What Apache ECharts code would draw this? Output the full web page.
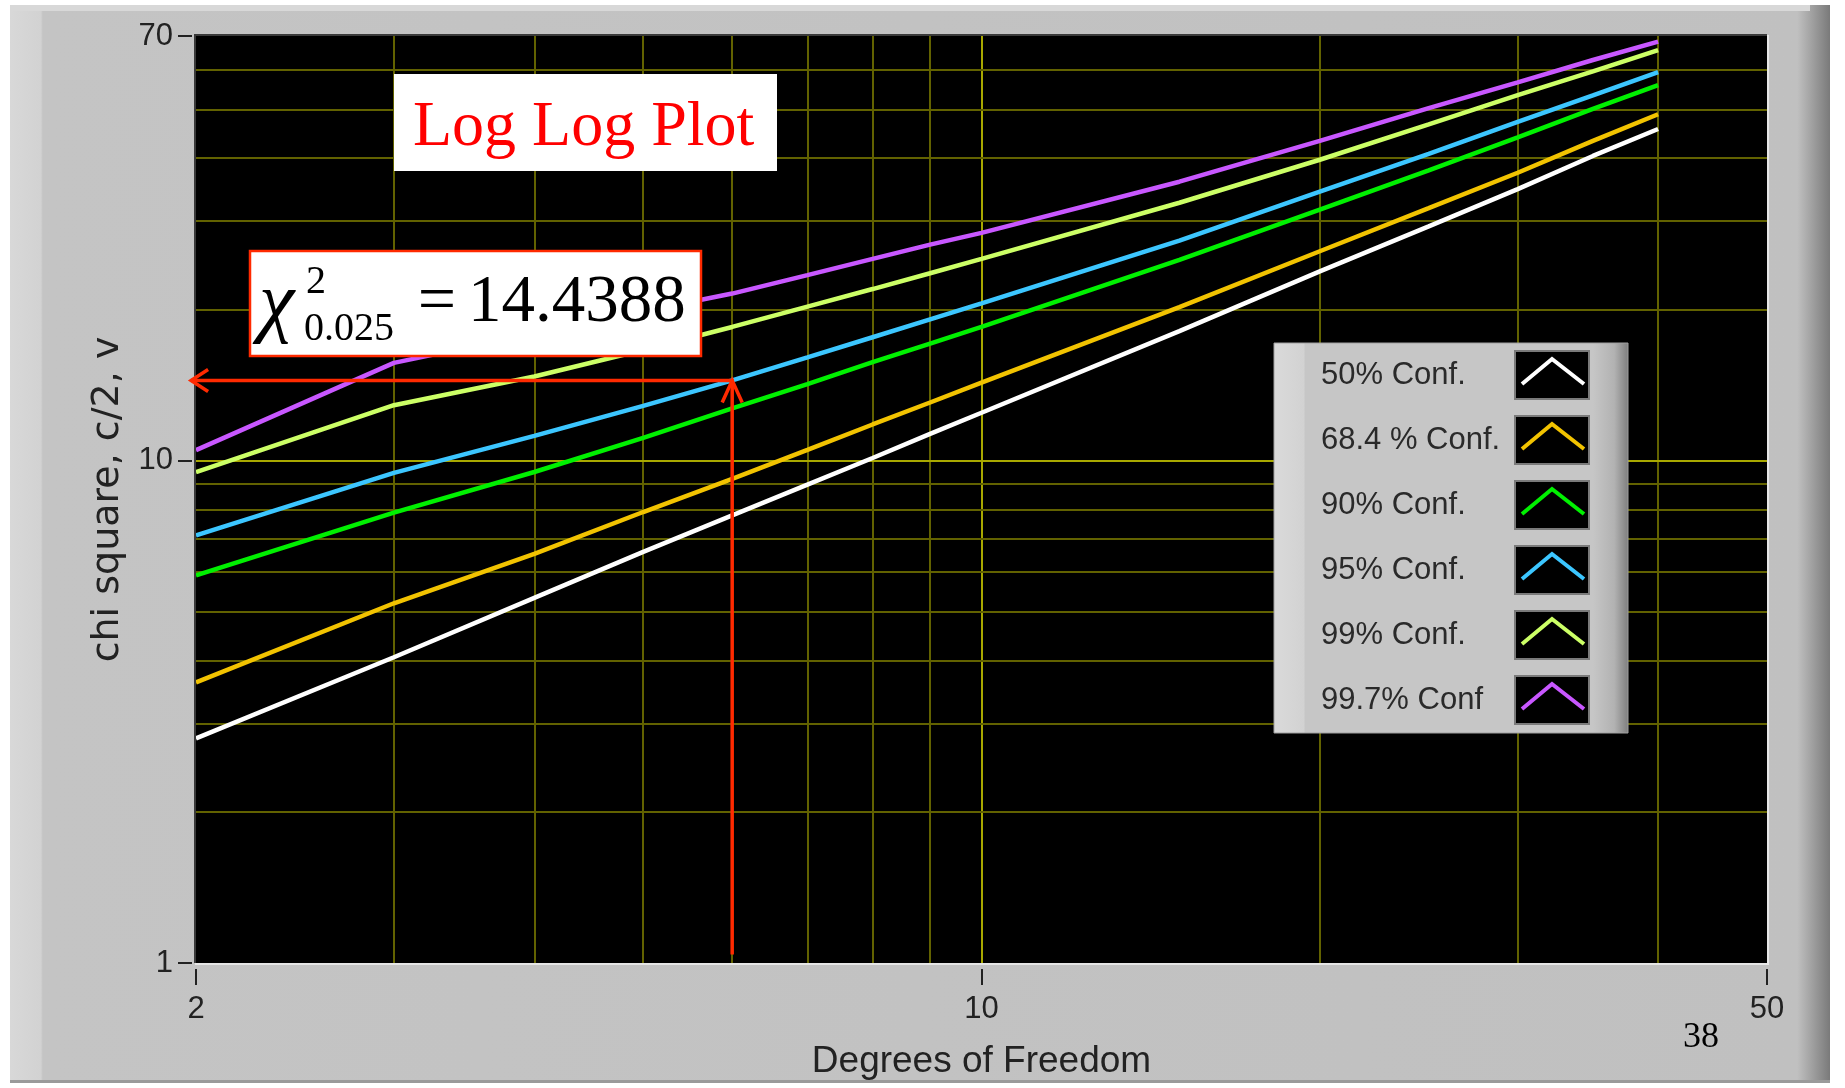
<!DOCTYPE html>
<html>
<head>
<meta charset="utf-8">
<title>Chi square vs degrees of freedom</title>
<script src="https://cdn.jsdelivr.net/npm/echarts@6/dist/echarts.min.js"></script>
<style>
  html, body { margin: 0; padding: 0; background: #ffffff; }
  #chart { width: 1845px; height: 1088px; }
</style>
</head>
<body>
<div id="chart"></div>
<script>
// Degrees of freedom at which each curve is sampled
const DOF = [2, 3, 4, 5, 6, 7, 8, 9, 10, 15, 20, 25, 30, 35, 40];

// Chi-square value for each confidence level
const CONF_50   = [2.80, 4.06, 5.33, 6.58, 7.78, 8.96, 10.12, 11.3, 12.45, 18.1, 23.8, 29.25, 34.7, 40.4, 45.7];
const CONF_68_4 = [3.62, 5.20, 6.52, 7.90, 9.20, 10.5, 11.8, 13.05, 14.3, 20.2, 26.1, 31.8, 37.4, 43.3, 48.9];
const CONF_90   = [5.91, 7.88, 9.49, 11.1, 12.7, 14.2, 15.7, 17.1, 18.45, 25.1, 31.6, 37.8, 44.0, 50.1, 55.9];
const CONF_95   = [7.10, 9.45, 11.2, 12.85, 14.44, 16.05, 17.6, 19.1, 20.55, 27.4, 34.3, 40.8, 47.2, 53.3, 59.3];
const CONF_99   = [9.49, 12.89, 14.7, 16.6, 18.45, 20.25, 21.95, 23.6, 25.2, 32.6, 39.7, 46.7, 53.4, 59.5, 65.6];
const CONF_99_7 = [10.49, 15.65, 17.9, 19.8, 21.5, 23.4, 25.2, 26.9, 28.4, 35.9, 43.3, 50.3, 56.6, 62.7, 68.2];

const SERIES_NAMES  = ['50% Conf.', '68.4 % Conf.', '90% Conf.', '95% Conf.', '99% Conf.', '99.7% Conf'];
const SERIES_VALUES = [CONF_50, CONF_68_4, CONF_90, CONF_95, CONF_99, CONF_99_7];

// Axis end ticks (also the labelled values) and grid line values
const X_TICKS = [2, 10, 50];
const Y_TICKS = [1, 10, 70];
const X_GRID  = [3, 4, 5, 6, 7, 8, 9, 10, 20, 30, 40];
const Y_GRID  = [2, 3, 4, 5, 6, 7, 8, 9, 10, 20, 30, 40, 50, 60];
const MAJOR_GRID = 10;

// Worked reading: 95% curve at 6 degrees of freedom
const READ_DOF   = 6;
const READ_VALUE = 14.4388;
const READ_FROM  = 1.04;   // foot of the vertical arrow
const READ_TO    = 1.98;   // tip of the horizontal arrow

// ---- styling ----
const COLORS = ['#ffffff', '#f2c300', '#00f000', '#3cc6ff', '#ccff66', '#c857ff'];
const MINOR_GRID_COLOR = '#626200';
const MAJOR_GRID_COLOR = '#a8a800';
const ARROW_RED = '#ff2a00';
const GRID = { left: 196, top: 36, width: 1571, height: 927 };
const SANS = '"Liberation Sans", Arial, sans-serif';
const SERIF = '"Liberation Serif", "Times New Roman", serif';

const chart = echarts.init(document.getElementById('chart'), null, { renderer: 'canvas' });

const gridLines = []
  .concat(X_GRID.map(v => ({ xAxis: v, lineStyle: { color: v === MAJOR_GRID ? MAJOR_GRID_COLOR : MINOR_GRID_COLOR, width: 2, type: 'solid' } })))
  .concat(Y_GRID.map(v => ({ yAxis: v, lineStyle: { color: v === MAJOR_GRID ? MAJOR_GRID_COLOR : MINOR_GRID_COLOR, width: 2, type: 'solid' } })));

const series = [{
  name: 'grid',
  type: 'line',
  data: [],
  z: 1,
  silent: true,
  markLine: {
    silent: true,
    symbol: 'none',
    animation: false,
    z: 1,
    label: { show: false },
    emphasis: { disabled: true },
    data: gridLines
  }
}].concat(SERIES_NAMES.map((name, i) => ({
  name: name,
  type: 'line',
  data: DOF.map((d, j) => [d, SERIES_VALUES[i][j]]),
  showSymbol: false,
  symbol: 'none',
  smooth: false,
  z: 10,
  silent: true,
  lineStyle: { color: COLORS[i], width: 4.5 },
  itemStyle: { color: COLORS[i] }
})));

const axisLabelStyle = {
  show: true,
  fontFamily: SANS,
  fontSize: 31,
  color: '#222222',
  showMinLabel: true,
  showMaxLabel: true,
  formatter: v => String(Math.round(v))
};

const option = {
  backgroundColor: '#ffffff',
  animation: false,
  grid: {
    left: GRID.left, top: GRID.top, width: GRID.width, height: GRID.height,
    show: true, backgroundColor: '#000000', borderWidth: 0,
    outerBoundsMode: 'none'
  },
  xAxis: {
    type: 'log', logBase: 10,
    min: X_TICKS[0], max: X_TICKS[X_TICKS.length - 1],
    offset: 6,
    name: 'Degrees of Freedom', nameLocation: 'middle', nameGap: 74,
    nameTextStyle: { fontFamily: SANS, fontSize: 37, color: '#222222' },
    axisLine: { show: false },
    axisTick: { show: true, length: 16, lineStyle: { color: '#222222', width: 2 } },
    axisLabel: Object.assign({ margin: 25 }, axisLabelStyle),
    splitLine: { show: false },
    minorTick: { show: false },
    minorSplitLine: { show: false }
  },
  yAxis: {
    type: 'log', logBase: 10,
    min: Y_TICKS[0], max: Y_TICKS[Y_TICKS.length - 1],
    offset: 4,
    name: 'chi square, c/2, v', nameLocation: 'middle', nameGap: 64,
    nameTextStyle: { fontFamily: '"DejaVu Sans", sans-serif', fontSize: 38, color: '#222222' },
    axisLine: { show: false },
    axisTick: { show: true, length: 14, lineStyle: { color: '#222222', width: 2 } },
    axisLabel: Object.assign({ margin: 19 }, axisLabelStyle),
    splitLine: { show: false },
    minorTick: { show: false },
    minorSplitLine: { show: false }
  },
  legend: { show: false },
  tooltip: { show: false },
  series: series
};

chart.setOption(option);

// ---- decorations: panel, plot frame, annotation boxes, legend, reading arrows ----
function panelGraphics() {
  return [
    { type: 'rect', z: -10, silent: true,
      shape: { x: 10, y: 5, width: 1820, height: 1078 },
      style: { fill: { type: 'linear', x: 0, y: 0, x2: 1, y2: 0, colorStops: [
        { offset: 0, color: '#d8d8d8' }, { offset: 0.017, color: '#d2d2d2' },
        { offset: 0.018, color: '#c4c4c4' }, { offset: 0.982, color: '#c0c0c0' },
        { offset: 1, color: '#7a7a7a' } ] } } },
    { type: 'rect', z: -9, silent: true, shape: { x: 10, y: 5, width: 1800, height: 6 }, style: { fill: '#d8d8d8' } },
    { type: 'rect', z: -9, silent: true, shape: { x: 10, y: 1080, width: 1820, height: 3 }, style: { fill: '#9a9a9a' } },
    // plot frame: dark top/left, light bottom/right
    { type: 'polyline', z: 20, silent: true,
      shape: { points: [[GRID.left - 1, GRID.top + GRID.height], [GRID.left - 1, GRID.top - 1], [GRID.left + GRID.width, GRID.top - 1]] },
      style: { stroke: '#3a3a3a', lineWidth: 2, fill: null } },
    { type: 'polyline', z: 20, silent: true,
      shape: { points: [[GRID.left - 1, GRID.top + GRID.height + 1], [GRID.left + GRID.width + 1, GRID.top + GRID.height + 1], [GRID.left + GRID.width + 1, GRID.top - 1]] },
      style: { stroke: '#e6e6e6', lineWidth: 2, fill: null } }
  ];
}

function titleGraphics() {
  return [
    { type: 'rect', z: 30, silent: true, shape: { x: 394, y: 74, width: 383, height: 97 }, style: { fill: '#ffffff' } },
    { type: 'text', z: 31, silent: true,
      style: { x: 413, y: 128, text: 'Log Log Plot', fill: '#ff0000', font: '64px ' + SERIF, align: 'left', verticalAlign: 'middle' } },
    { type: 'rect', z: 30, silent: true, shape: { x: 250, y: 251, width: 451, height: 105 },
      style: { fill: '#ffffff', stroke: ARROW_RED, lineWidth: 2.5 } },
    { type: 'text', z: 31, silent: true,
      style: { x: 259, y: 306, text: '\u03C7', fill: '#000000', font: 'italic 80px ' + SERIF, align: 'left', verticalAlign: 'middle' } },
    { type: 'text', z: 31, silent: true,
      style: { x: 306, y: 282, text: '2', fill: '#000000', font: '40px ' + SERIF, align: 'left', verticalAlign: 'middle' } },
    { type: 'text', z: 31, silent: true,
      style: { x: 304, y: 329, text: '0.025', fill: '#000000', font: '40px ' + SERIF, align: 'left', verticalAlign: 'middle' } },
    { type: 'text', z: 31, silent: true,
      style: { x: 437, y: 303, text: '=', fill: '#000000', font: '68px ' + SERIF, align: 'center', verticalAlign: 'middle' } },
    { type: 'text', z: 31, silent: true,
      style: { x: 468, y: 303, text: String(READ_VALUE), fill: '#000000', font: '67px ' + SERIF, align: 'left', verticalAlign: 'middle' } },
    { type: 'text', z: 31, silent: true,
      style: { x: 1701, y: 1038, text: '38', fill: '#000000', font: '36px ' + SERIF, align: 'center', verticalAlign: 'middle' } }
  ];
}

function legendGraphics() {
  const x0 = 1274, y0 = 343, w = 354, h = 390;
  const els = [
    { type: 'rect', z: 30, silent: true, shape: { x: x0, y: y0, width: w, height: h },
      style: { fill: { type: 'linear', x: 0, y: 0, x2: 1, y2: 0, colorStops: [
        { offset: 0, color: '#dadada' }, { offset: 0.085, color: '#d2d2d2' },
        { offset: 0.09, color: '#c6c6c6' }, { offset: 0.9, color: '#c6c6c6' },
        { offset: 0.96, color: '#b2b2b2' }, { offset: 1, color: '#7e7e7e' } ] },
        stroke: '#a0a0a0', lineWidth: 1 } }
  ];
  SERIES_NAMES.forEach((name, i) => {
    const cy = 375 + i * 65;
    els.push({ type: 'text', z: 31, silent: true,
      style: { x: 1321, y: cy, text: name, fill: '#2a2a2a', font: '31px ' + SANS, align: 'left', verticalAlign: 'middle' } });
    els.push({ type: 'rect', z: 31, silent: true, shape: { x: 1515, y: cy - 24, width: 74, height: 48 },
      style: { fill: '#000000', stroke: '#7a7a7a', lineWidth: 2 } });
    els.push({ type: 'polyline', z: 32, silent: true,
      shape: { points: [[1522, cy + 9], [1552, cy - 16], [1584, cy + 9]] },
      style: { stroke: COLORS[i], lineWidth: 4, fill: null } });
  });
  return els;
}

function arrowGraphics() {
  const corner = chart.convertToPixel({ gridIndex: 0 }, [READ_DOF, READ_VALUE]);
  const foot = chart.convertToPixel({ gridIndex: 0 }, [READ_DOF, READ_FROM]);
  const tip = chart.convertToPixel({ gridIndex: 0 }, [READ_TO, READ_VALUE]);
  const stroke = { stroke: ARROW_RED, lineWidth: 3.5, fill: null };
  return [
    { type: 'polyline', z: 40, silent: true, shape: { points: [foot, corner, tip] }, style: stroke },
    { type: 'polyline', z: 40, silent: true,
      shape: { points: [[corner[0] - 10, corner[1] + 22], corner, [corner[0] + 10, corner[1] + 22]] }, style: stroke },
    { type: 'polyline', z: 40, silent: true,
      shape: { points: [[tip[0] + 17, tip[1] - 11], tip, [tip[0] + 17, tip[1] + 11]] }, style: stroke }
  ];
}

chart.setOption({
  graphic: { elements: [].concat(panelGraphics(), titleGraphics(), legendGraphics(), arrowGraphics()) }
});
</script>
</body>
</html>
